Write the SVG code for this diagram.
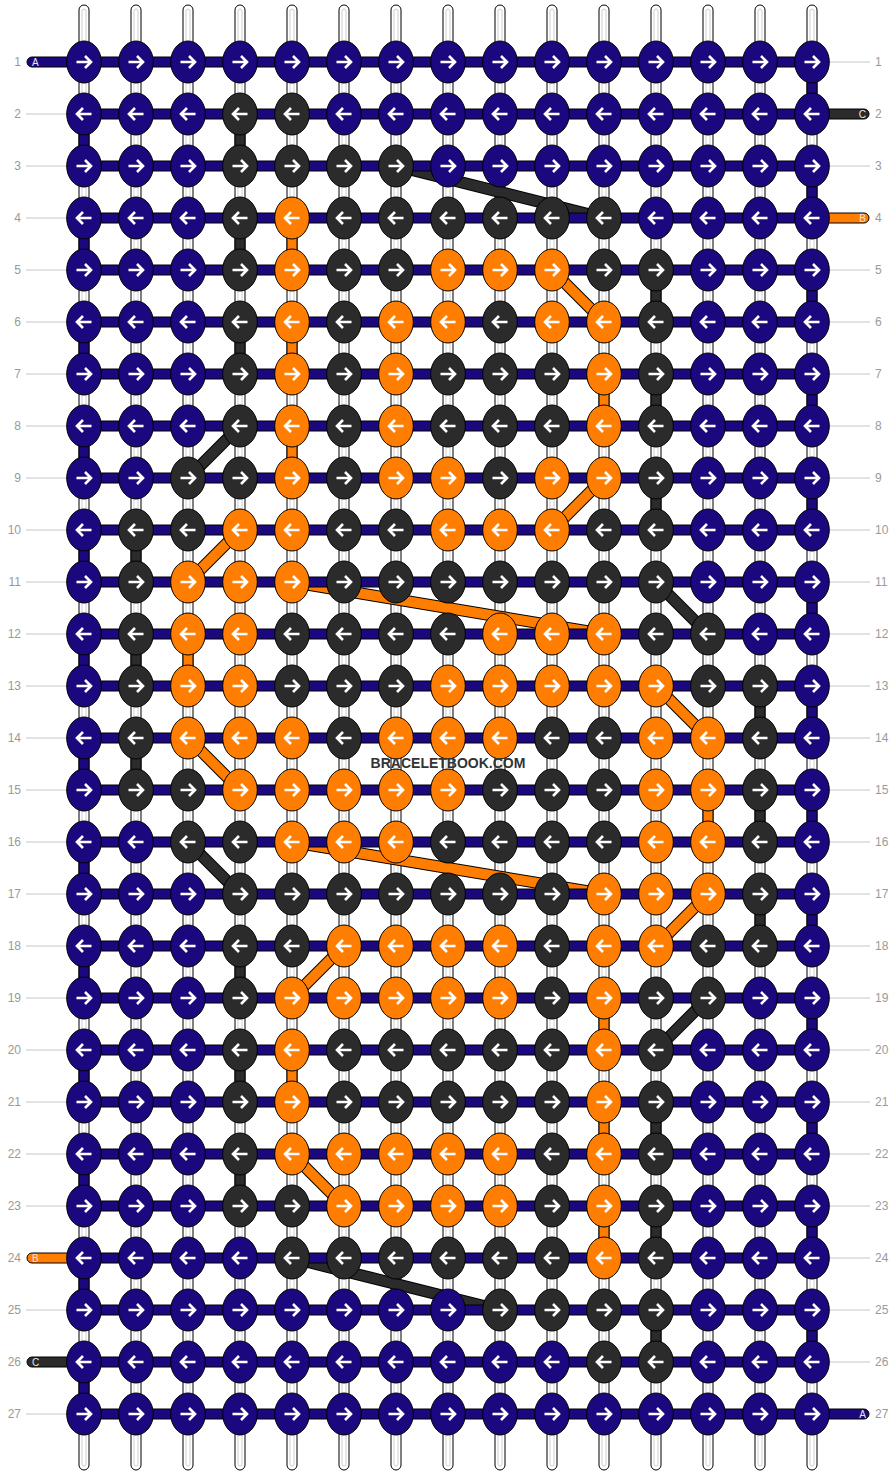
<svg xmlns="http://www.w3.org/2000/svg" width="896" height="1476" viewBox="0 0 896 1476">
<style>
.s{fill:#fff;stroke:#000;stroke-width:1}
.si{fill:none;stroke:#cfcfcf;stroke-width:1}
.ed{stroke:#000;stroke-width:1}
.cb{fill:#1c087e}.ck{fill:#2b2b2b}.co{fill:#ff7d00}
.ar{fill:none;stroke:#fff;stroke-width:2.6}
.lbl{font-family:"Liberation Sans",Arial,sans-serif;font-size:12px;fill:#9a9a9a}
.sl{font-family:"Liberation Sans",Arial,sans-serif;font-size:10px;fill:#e8e8e8}
.ln{stroke:#c8c8c8;stroke-width:1}
.dl{stroke:#000;stroke-width:12}
.dk{stroke:#2b2b2b;stroke-width:10}
.do{stroke:#ff7d00;stroke-width:10}
.wm{font-family:"Liberation Sans",Arial,sans-serif;font-size:14px;font-weight:bold;fill:#333}
</style>
<defs>
<path id="aR" class="ar" d="M-7.5,0H6.5M1,-6L7,0L1,6"/>
<path id="aL" class="ar" d="M7.5,0H-6.5M-1,-6L-7,0L-1,6"/>
<g id="bR"><ellipse class="cb ed" rx="17.3" ry="21"/><use href="#aR"/></g>
<g id="bL"><ellipse class="cb ed" rx="17.3" ry="21"/><use href="#aL"/></g>
<g id="kR"><ellipse class="ck ed" rx="17.3" ry="21"/><use href="#aR"/></g>
<g id="kL"><ellipse class="ck ed" rx="17.3" ry="21"/><use href="#aL"/></g>
<g id="oR"><ellipse class="co ed" rx="17.3" ry="21"/><use href="#aR"/></g>
<g id="oL"><ellipse class="co ed" rx="17.3" ry="21"/><use href="#aL"/></g>
<g id="str"><rect class="s" x="-5" y="5" width="10" height="1465" rx="5"/><rect class="si" x="-2" y="9" width="4" height="1457" rx="2"/></g>
</defs>
<rect width="896" height="1476" fill="#fff"/>
<g id="labels">
<g class="ln">
<line x1="830" y1="62" x2="870" y2="62"/>
<line x1="26" y1="114" x2="66" y2="114"/>
<line x1="26" y1="166" x2="66" y2="166"/><line x1="830" y1="166" x2="870" y2="166"/>
<line x1="26" y1="218" x2="66" y2="218"/>
<line x1="26" y1="270" x2="66" y2="270"/><line x1="830" y1="270" x2="870" y2="270"/>
<line x1="26" y1="322" x2="66" y2="322"/><line x1="830" y1="322" x2="870" y2="322"/>
<line x1="26" y1="374" x2="66" y2="374"/><line x1="830" y1="374" x2="870" y2="374"/>
<line x1="26" y1="426" x2="66" y2="426"/><line x1="830" y1="426" x2="870" y2="426"/>
<line x1="26" y1="478" x2="66" y2="478"/><line x1="830" y1="478" x2="870" y2="478"/>
<line x1="26" y1="530" x2="66" y2="530"/><line x1="830" y1="530" x2="870" y2="530"/>
<line x1="26" y1="582" x2="66" y2="582"/><line x1="830" y1="582" x2="870" y2="582"/>
<line x1="26" y1="634" x2="66" y2="634"/><line x1="830" y1="634" x2="870" y2="634"/>
<line x1="26" y1="686" x2="66" y2="686"/><line x1="830" y1="686" x2="870" y2="686"/>
<line x1="26" y1="738" x2="66" y2="738"/><line x1="830" y1="738" x2="870" y2="738"/>
<line x1="26" y1="790" x2="66" y2="790"/><line x1="830" y1="790" x2="870" y2="790"/>
<line x1="26" y1="842" x2="66" y2="842"/><line x1="830" y1="842" x2="870" y2="842"/>
<line x1="26" y1="894" x2="66" y2="894"/><line x1="830" y1="894" x2="870" y2="894"/>
<line x1="26" y1="946" x2="66" y2="946"/><line x1="830" y1="946" x2="870" y2="946"/>
<line x1="26" y1="998" x2="66" y2="998"/><line x1="830" y1="998" x2="870" y2="998"/>
<line x1="26" y1="1050" x2="66" y2="1050"/><line x1="830" y1="1050" x2="870" y2="1050"/>
<line x1="26" y1="1102" x2="66" y2="1102"/><line x1="830" y1="1102" x2="870" y2="1102"/>
<line x1="26" y1="1154" x2="66" y2="1154"/><line x1="830" y1="1154" x2="870" y2="1154"/>
<line x1="26" y1="1206" x2="66" y2="1206"/><line x1="830" y1="1206" x2="870" y2="1206"/>
<line x1="830" y1="1258" x2="870" y2="1258"/>
<line x1="26" y1="1310" x2="66" y2="1310"/><line x1="830" y1="1310" x2="870" y2="1310"/>
<line x1="830" y1="1362" x2="870" y2="1362"/>
<line x1="26" y1="1414" x2="66" y2="1414"/>
</g>
<g class="lbl" text-anchor="end">
<text x="21" y="66">1</text><text x="21" y="118">2</text><text x="21" y="170">3</text><text x="21" y="222">4</text><text x="21" y="274">5</text><text x="21" y="326">6</text><text x="21" y="378">7</text><text x="21" y="430">8</text><text x="21" y="482">9</text><text x="21" y="534">10</text><text x="21" y="586">11</text><text x="21" y="638">12</text><text x="21" y="690">13</text><text x="21" y="742">14</text><text x="21" y="794">15</text><text x="21" y="846">16</text><text x="21" y="898">17</text><text x="21" y="950">18</text><text x="21" y="1002">19</text><text x="21" y="1054">20</text><text x="21" y="1106">21</text><text x="21" y="1158">22</text><text x="21" y="1210">23</text><text x="21" y="1262">24</text><text x="21" y="1314">25</text><text x="21" y="1366">26</text><text x="21" y="1418">27</text>
</g>
<g class="lbl">
<text x="875" y="66">1</text><text x="875" y="118">2</text><text x="875" y="170">3</text><text x="875" y="222">4</text><text x="875" y="274">5</text><text x="875" y="326">6</text><text x="875" y="378">7</text><text x="875" y="430">8</text><text x="875" y="482">9</text><text x="875" y="534">10</text><text x="875" y="586">11</text><text x="875" y="638">12</text><text x="875" y="690">13</text><text x="875" y="742">14</text><text x="875" y="794">15</text><text x="875" y="846">16</text><text x="875" y="898">17</text><text x="875" y="950">18</text><text x="875" y="1002">19</text><text x="875" y="1054">20</text><text x="875" y="1106">21</text><text x="875" y="1158">22</text><text x="875" y="1210">23</text><text x="875" y="1262">24</text><text x="875" y="1314">25</text><text x="875" y="1366">26</text><text x="875" y="1418">27</text>
</g>
</g>
<g id="strings">
<use href="#str" x="84"/><use href="#str" x="136"/><use href="#str" x="188"/><use href="#str" x="240"/><use href="#str" x="292"/><use href="#str" x="344"/><use href="#str" x="396"/><use href="#str" x="448"/><use href="#str" x="500"/><use href="#str" x="552"/><use href="#str" x="604"/><use href="#str" x="656"/><use href="#str" x="708"/><use href="#str" x="760"/><use href="#str" x="812"/>
</g>
<g id="connectors">
<g id="diagonals">
<g class="dl">
<line x1="396" y1="166" x2="604" y2="218"/><line x1="552" y1="270" x2="604" y2="322"/><line x1="240" y1="426" x2="188" y2="478"/><line x1="604" y1="478" x2="552" y2="530"/><line x1="240" y1="530" x2="188" y2="582"/><line x1="656" y1="582" x2="708" y2="634"/><line x1="292" y1="582" x2="604" y2="634"/><line x1="656" y1="686" x2="708" y2="738"/><line x1="188" y1="738" x2="240" y2="790"/><line x1="188" y1="842" x2="240" y2="894"/><line x1="292" y1="842" x2="604" y2="894"/><line x1="708" y1="894" x2="656" y2="946"/><line x1="344" y1="946" x2="292" y2="998"/><line x1="708" y1="998" x2="656" y2="1050"/><line x1="292" y1="1154" x2="344" y2="1206"/><line x1="292" y1="1258" x2="500" y2="1310"/>
</g>
<g class="dk">
<line x1="396" y1="166" x2="604" y2="218"/><line x1="240" y1="426" x2="188" y2="478"/><line x1="656" y1="582" x2="708" y2="634"/><line x1="188" y1="842" x2="240" y2="894"/><line x1="708" y1="998" x2="656" y2="1050"/><line x1="292" y1="1258" x2="500" y2="1310"/>
</g>
<g class="do">
<line x1="552" y1="270" x2="604" y2="322"/><line x1="604" y1="478" x2="552" y2="530"/><line x1="240" y1="530" x2="188" y2="582"/><line x1="292" y1="582" x2="604" y2="634"/><line x1="656" y1="686" x2="708" y2="738"/><line x1="188" y1="738" x2="240" y2="790"/><line x1="292" y1="842" x2="604" y2="894"/><line x1="708" y1="894" x2="656" y2="946"/><line x1="344" y1="946" x2="292" y2="998"/><line x1="292" y1="1154" x2="344" y2="1206"/>
</g>
</g>
<g id="verticals">
<g class="cb ed">
<rect x="807" y="62" width="10" height="52"/><rect x="807" y="166" width="10" height="52"/><rect x="807" y="270" width="10" height="52"/><rect x="807" y="374" width="10" height="52"/><rect x="807" y="478" width="10" height="52"/><rect x="807" y="582" width="10" height="52"/><rect x="807" y="686" width="10" height="52"/><rect x="807" y="790" width="10" height="52"/><rect x="807" y="894" width="10" height="52"/><rect x="807" y="998" width="10" height="52"/><rect x="807" y="1102" width="10" height="52"/><rect x="807" y="1206" width="10" height="52"/><rect x="807" y="1310" width="10" height="52"/>
<rect x="79" y="114" width="10" height="52"/><rect x="79" y="218" width="10" height="52"/><rect x="79" y="322" width="10" height="52"/><rect x="79" y="426" width="10" height="52"/><rect x="79" y="530" width="10" height="52"/><rect x="79" y="634" width="10" height="52"/><rect x="79" y="738" width="10" height="52"/><rect x="79" y="842" width="10" height="52"/><rect x="79" y="946" width="10" height="52"/><rect x="79" y="1050" width="10" height="52"/><rect x="79" y="1154" width="10" height="52"/><rect x="79" y="1258" width="10" height="52"/><rect x="79" y="1362" width="10" height="52"/>
</g>
<g class="ck ed">
<rect x="235" y="114" width="10" height="52"/><rect x="235" y="218" width="10" height="52"/><rect x="235" y="322" width="10" height="52"/><rect x="235" y="946" width="10" height="52"/><rect x="235" y="1050" width="10" height="52"/><rect x="235" y="1154" width="10" height="52"/>
<rect x="651" y="270" width="10" height="52"/><rect x="651" y="374" width="10" height="52"/><rect x="651" y="478" width="10" height="52"/><rect x="651" y="1102" width="10" height="52"/><rect x="651" y="1206" width="10" height="52"/><rect x="651" y="1310" width="10" height="52"/>
<rect x="131" y="530" width="10" height="52"/><rect x="131" y="634" width="10" height="52"/><rect x="131" y="738" width="10" height="52"/>
<rect x="755" y="686" width="10" height="52"/><rect x="755" y="790" width="10" height="52"/><rect x="755" y="894" width="10" height="52"/>
</g>
<g class="co ed">
<rect x="287" y="218" width="10" height="52"/><rect x="287" y="322" width="10" height="52"/><rect x="287" y="426" width="10" height="52"/><rect x="287" y="1050" width="10" height="52"/>
<rect x="599" y="374" width="10" height="52"/><rect x="599" y="998" width="10" height="52"/><rect x="599" y="1102" width="10" height="52"/><rect x="599" y="1206" width="10" height="52"/>
<rect x="183" y="634" width="10" height="52"/>
<rect x="703" y="790" width="10" height="52"/>
</g>
</g>
<g id="rows" class="cb ed">
<rect x="84" y="57" width="728" height="10"/><rect x="84" y="109" width="728" height="10"/><rect x="84" y="161" width="728" height="10"/><rect x="84" y="213" width="728" height="10"/><rect x="84" y="265" width="728" height="10"/><rect x="84" y="317" width="728" height="10"/><rect x="84" y="369" width="728" height="10"/><rect x="84" y="421" width="728" height="10"/><rect x="84" y="473" width="728" height="10"/><rect x="84" y="525" width="728" height="10"/><rect x="84" y="577" width="728" height="10"/><rect x="84" y="629" width="728" height="10"/><rect x="84" y="681" width="728" height="10"/><rect x="84" y="733" width="728" height="10"/><rect x="84" y="785" width="728" height="10"/><rect x="84" y="837" width="728" height="10"/><rect x="84" y="889" width="728" height="10"/><rect x="84" y="941" width="728" height="10"/><rect x="84" y="993" width="728" height="10"/><rect x="84" y="1045" width="728" height="10"/><rect x="84" y="1097" width="728" height="10"/><rect x="84" y="1149" width="728" height="10"/><rect x="84" y="1201" width="728" height="10"/><rect x="84" y="1253" width="728" height="10"/><rect x="84" y="1305" width="728" height="10"/><rect x="84" y="1357" width="728" height="10"/><rect x="84" y="1409" width="728" height="10"/>
</g>
<g id="ends">
<rect class="cb ed" x="27" y="57" width="62" height="10" rx="5"/><text class="sl" x="32" y="65.5">A</text>
<rect class="cb ed" x="807" y="1409" width="62" height="10" rx="5"/><text class="sl" x="866" y="1417.5" text-anchor="end">A</text>
<rect class="ck ed" x="807" y="109" width="62" height="10" rx="5"/><text class="sl" x="866" y="117.5" text-anchor="end">C</text>
<rect class="co ed" x="807" y="213" width="62" height="10" rx="5"/><text class="sl" x="866" y="221.5" text-anchor="end">B</text>
<rect class="co ed" x="27" y="1253" width="62" height="10" rx="5"/><text class="sl" x="32" y="1261.5">B</text>
<rect class="ck ed" x="27" y="1357" width="62" height="10" rx="5"/><text class="sl" x="32" y="1365.5">C</text>
</g>
</g>
<g id="knots">
<g id="n1-1"><use href="#bR" x="84" y="62"/></g><g id="n1-2"><use href="#bR" x="136" y="62"/></g><g id="n1-3"><use href="#bR" x="188" y="62"/></g><g id="n1-4"><use href="#bR" x="240" y="62"/></g><g id="n1-5"><use href="#bR" x="292" y="62"/></g><g id="n1-6"><use href="#bR" x="344" y="62"/></g><g id="n1-7"><use href="#bR" x="396" y="62"/></g><g id="n1-8"><use href="#bR" x="448" y="62"/></g><g id="n1-9"><use href="#bR" x="500" y="62"/></g><g id="n1-10"><use href="#bR" x="552" y="62"/></g><g id="n1-11"><use href="#bR" x="604" y="62"/></g><g id="n1-12"><use href="#bR" x="656" y="62"/></g><g id="n1-13"><use href="#bR" x="708" y="62"/></g><g id="n1-14"><use href="#bR" x="760" y="62"/></g><g id="n1-15"><use href="#bR" x="812" y="62"/></g>
<g id="n2-1"><use href="#bL" x="84" y="114"/></g><g id="n2-2"><use href="#bL" x="136" y="114"/></g><g id="n2-3"><use href="#bL" x="188" y="114"/></g><g id="n2-4"><use href="#kL" x="240" y="114"/></g><g id="n2-5"><use href="#kL" x="292" y="114"/></g><g id="n2-6"><use href="#bL" x="344" y="114"/></g><g id="n2-7"><use href="#bL" x="396" y="114"/></g><g id="n2-8"><use href="#bL" x="448" y="114"/></g><g id="n2-9"><use href="#bL" x="500" y="114"/></g><g id="n2-10"><use href="#bL" x="552" y="114"/></g><g id="n2-11"><use href="#bL" x="604" y="114"/></g><g id="n2-12"><use href="#bL" x="656" y="114"/></g><g id="n2-13"><use href="#bL" x="708" y="114"/></g><g id="n2-14"><use href="#bL" x="760" y="114"/></g><g id="n2-15"><use href="#bL" x="812" y="114"/></g>
<g id="n3-1"><use href="#bR" x="84" y="166"/></g><g id="n3-2"><use href="#bR" x="136" y="166"/></g><g id="n3-3"><use href="#bR" x="188" y="166"/></g><g id="n3-4"><use href="#kR" x="240" y="166"/></g><g id="n3-5"><use href="#kR" x="292" y="166"/></g><g id="n3-6"><use href="#kR" x="344" y="166"/></g><g id="n3-7"><use href="#kR" x="396" y="166"/></g><g id="n3-8"><use href="#bR" x="448" y="166"/></g><g id="n3-9"><use href="#bR" x="500" y="166"/></g><g id="n3-10"><use href="#bR" x="552" y="166"/></g><g id="n3-11"><use href="#bR" x="604" y="166"/></g><g id="n3-12"><use href="#bR" x="656" y="166"/></g><g id="n3-13"><use href="#bR" x="708" y="166"/></g><g id="n3-14"><use href="#bR" x="760" y="166"/></g><g id="n3-15"><use href="#bR" x="812" y="166"/></g>
<g id="n4-1"><use href="#bL" x="84" y="218"/></g><g id="n4-2"><use href="#bL" x="136" y="218"/></g><g id="n4-3"><use href="#bL" x="188" y="218"/></g><g id="n4-4"><use href="#kL" x="240" y="218"/></g><g id="n4-5"><use href="#oL" x="292" y="218"/></g><g id="n4-6"><use href="#kL" x="344" y="218"/></g><g id="n4-7"><use href="#kL" x="396" y="218"/></g><g id="n4-8"><use href="#kL" x="448" y="218"/></g><g id="n4-9"><use href="#kL" x="500" y="218"/></g><g id="n4-10"><use href="#kL" x="552" y="218"/></g><g id="n4-11"><use href="#kL" x="604" y="218"/></g><g id="n4-12"><use href="#bL" x="656" y="218"/></g><g id="n4-13"><use href="#bL" x="708" y="218"/></g><g id="n4-14"><use href="#bL" x="760" y="218"/></g><g id="n4-15"><use href="#bL" x="812" y="218"/></g>
<g id="n5-1"><use href="#bR" x="84" y="270"/></g><g id="n5-2"><use href="#bR" x="136" y="270"/></g><g id="n5-3"><use href="#bR" x="188" y="270"/></g><g id="n5-4"><use href="#kR" x="240" y="270"/></g><g id="n5-5"><use href="#oR" x="292" y="270"/></g><g id="n5-6"><use href="#kR" x="344" y="270"/></g><g id="n5-7"><use href="#kR" x="396" y="270"/></g><g id="n5-8"><use href="#oR" x="448" y="270"/></g><g id="n5-9"><use href="#oR" x="500" y="270"/></g><g id="n5-10"><use href="#oR" x="552" y="270"/></g><g id="n5-11"><use href="#kR" x="604" y="270"/></g><g id="n5-12"><use href="#kR" x="656" y="270"/></g><g id="n5-13"><use href="#bR" x="708" y="270"/></g><g id="n5-14"><use href="#bR" x="760" y="270"/></g><g id="n5-15"><use href="#bR" x="812" y="270"/></g>
<g id="n6-1"><use href="#bL" x="84" y="322"/></g><g id="n6-2"><use href="#bL" x="136" y="322"/></g><g id="n6-3"><use href="#bL" x="188" y="322"/></g><g id="n6-4"><use href="#kL" x="240" y="322"/></g><g id="n6-5"><use href="#oL" x="292" y="322"/></g><g id="n6-6"><use href="#kL" x="344" y="322"/></g><g id="n6-7"><use href="#oL" x="396" y="322"/></g><g id="n6-8"><use href="#oL" x="448" y="322"/></g><g id="n6-9"><use href="#kL" x="500" y="322"/></g><g id="n6-10"><use href="#oL" x="552" y="322"/></g><g id="n6-11"><use href="#oL" x="604" y="322"/></g><g id="n6-12"><use href="#kL" x="656" y="322"/></g><g id="n6-13"><use href="#bL" x="708" y="322"/></g><g id="n6-14"><use href="#bL" x="760" y="322"/></g><g id="n6-15"><use href="#bL" x="812" y="322"/></g>
<g id="n7-1"><use href="#bR" x="84" y="374"/></g><g id="n7-2"><use href="#bR" x="136" y="374"/></g><g id="n7-3"><use href="#bR" x="188" y="374"/></g><g id="n7-4"><use href="#kR" x="240" y="374"/></g><g id="n7-5"><use href="#oR" x="292" y="374"/></g><g id="n7-6"><use href="#kR" x="344" y="374"/></g><g id="n7-7"><use href="#oR" x="396" y="374"/></g><g id="n7-8"><use href="#kR" x="448" y="374"/></g><g id="n7-9"><use href="#kR" x="500" y="374"/></g><g id="n7-10"><use href="#kR" x="552" y="374"/></g><g id="n7-11"><use href="#oR" x="604" y="374"/></g><g id="n7-12"><use href="#kR" x="656" y="374"/></g><g id="n7-13"><use href="#bR" x="708" y="374"/></g><g id="n7-14"><use href="#bR" x="760" y="374"/></g><g id="n7-15"><use href="#bR" x="812" y="374"/></g>
<g id="n8-1"><use href="#bL" x="84" y="426"/></g><g id="n8-2"><use href="#bL" x="136" y="426"/></g><g id="n8-3"><use href="#bL" x="188" y="426"/></g><g id="n8-4"><use href="#kL" x="240" y="426"/></g><g id="n8-5"><use href="#oL" x="292" y="426"/></g><g id="n8-6"><use href="#kL" x="344" y="426"/></g><g id="n8-7"><use href="#oL" x="396" y="426"/></g><g id="n8-8"><use href="#kL" x="448" y="426"/></g><g id="n8-9"><use href="#kL" x="500" y="426"/></g><g id="n8-10"><use href="#kL" x="552" y="426"/></g><g id="n8-11"><use href="#oL" x="604" y="426"/></g><g id="n8-12"><use href="#kL" x="656" y="426"/></g><g id="n8-13"><use href="#bL" x="708" y="426"/></g><g id="n8-14"><use href="#bL" x="760" y="426"/></g><g id="n8-15"><use href="#bL" x="812" y="426"/></g>
<g id="n9-1"><use href="#bR" x="84" y="478"/></g><g id="n9-2"><use href="#bR" x="136" y="478"/></g><g id="n9-3"><use href="#kR" x="188" y="478"/></g><g id="n9-4"><use href="#kR" x="240" y="478"/></g><g id="n9-5"><use href="#oR" x="292" y="478"/></g><g id="n9-6"><use href="#kR" x="344" y="478"/></g><g id="n9-7"><use href="#oR" x="396" y="478"/></g><g id="n9-8"><use href="#oR" x="448" y="478"/></g><g id="n9-9"><use href="#kR" x="500" y="478"/></g><g id="n9-10"><use href="#oR" x="552" y="478"/></g><g id="n9-11"><use href="#oR" x="604" y="478"/></g><g id="n9-12"><use href="#kR" x="656" y="478"/></g><g id="n9-13"><use href="#bR" x="708" y="478"/></g><g id="n9-14"><use href="#bR" x="760" y="478"/></g><g id="n9-15"><use href="#bR" x="812" y="478"/></g>
<g id="n10-1"><use href="#bL" x="84" y="530"/></g><g id="n10-2"><use href="#kL" x="136" y="530"/></g><g id="n10-3"><use href="#kL" x="188" y="530"/></g><g id="n10-4"><use href="#oL" x="240" y="530"/></g><g id="n10-5"><use href="#oL" x="292" y="530"/></g><g id="n10-6"><use href="#kL" x="344" y="530"/></g><g id="n10-7"><use href="#kL" x="396" y="530"/></g><g id="n10-8"><use href="#oL" x="448" y="530"/></g><g id="n10-9"><use href="#oL" x="500" y="530"/></g><g id="n10-10"><use href="#oL" x="552" y="530"/></g><g id="n10-11"><use href="#kL" x="604" y="530"/></g><g id="n10-12"><use href="#kL" x="656" y="530"/></g><g id="n10-13"><use href="#bL" x="708" y="530"/></g><g id="n10-14"><use href="#bL" x="760" y="530"/></g><g id="n10-15"><use href="#bL" x="812" y="530"/></g>
<g id="n11-1"><use href="#bR" x="84" y="582"/></g><g id="n11-2"><use href="#kR" x="136" y="582"/></g><g id="n11-3"><use href="#oR" x="188" y="582"/></g><g id="n11-4"><use href="#oR" x="240" y="582"/></g><g id="n11-5"><use href="#oR" x="292" y="582"/></g><g id="n11-6"><use href="#kR" x="344" y="582"/></g><g id="n11-7"><use href="#kR" x="396" y="582"/></g><g id="n11-8"><use href="#kR" x="448" y="582"/></g><g id="n11-9"><use href="#kR" x="500" y="582"/></g><g id="n11-10"><use href="#kR" x="552" y="582"/></g><g id="n11-11"><use href="#kR" x="604" y="582"/></g><g id="n11-12"><use href="#kR" x="656" y="582"/></g><g id="n11-13"><use href="#bR" x="708" y="582"/></g><g id="n11-14"><use href="#bR" x="760" y="582"/></g><g id="n11-15"><use href="#bR" x="812" y="582"/></g>
<g id="n12-1"><use href="#bL" x="84" y="634"/></g><g id="n12-2"><use href="#kL" x="136" y="634"/></g><g id="n12-3"><use href="#oL" x="188" y="634"/></g><g id="n12-4"><use href="#oL" x="240" y="634"/></g><g id="n12-5"><use href="#kL" x="292" y="634"/></g><g id="n12-6"><use href="#kL" x="344" y="634"/></g><g id="n12-7"><use href="#kL" x="396" y="634"/></g><g id="n12-8"><use href="#kL" x="448" y="634"/></g><g id="n12-9"><use href="#oL" x="500" y="634"/></g><g id="n12-10"><use href="#oL" x="552" y="634"/></g><g id="n12-11"><use href="#oL" x="604" y="634"/></g><g id="n12-12"><use href="#kL" x="656" y="634"/></g><g id="n12-13"><use href="#kL" x="708" y="634"/></g><g id="n12-14"><use href="#bL" x="760" y="634"/></g><g id="n12-15"><use href="#bL" x="812" y="634"/></g>
<g id="n13-1"><use href="#bR" x="84" y="686"/></g><g id="n13-2"><use href="#kR" x="136" y="686"/></g><g id="n13-3"><use href="#oR" x="188" y="686"/></g><g id="n13-4"><use href="#oR" x="240" y="686"/></g><g id="n13-5"><use href="#kR" x="292" y="686"/></g><g id="n13-6"><use href="#kR" x="344" y="686"/></g><g id="n13-7"><use href="#kR" x="396" y="686"/></g><g id="n13-8"><use href="#oR" x="448" y="686"/></g><g id="n13-9"><use href="#oR" x="500" y="686"/></g><g id="n13-10"><use href="#oR" x="552" y="686"/></g><g id="n13-11"><use href="#oR" x="604" y="686"/></g><g id="n13-12"><use href="#oR" x="656" y="686"/></g><g id="n13-13"><use href="#kR" x="708" y="686"/></g><g id="n13-14"><use href="#kR" x="760" y="686"/></g><g id="n13-15"><use href="#bR" x="812" y="686"/></g>
<g id="n14-1"><use href="#bL" x="84" y="738"/></g><g id="n14-2"><use href="#kL" x="136" y="738"/></g><g id="n14-3"><use href="#oL" x="188" y="738"/></g><g id="n14-4"><use href="#oL" x="240" y="738"/></g><g id="n14-5"><use href="#oL" x="292" y="738"/></g><g id="n14-6"><use href="#kL" x="344" y="738"/></g><g id="n14-7"><use href="#oL" x="396" y="738"/></g><g id="n14-8"><use href="#oL" x="448" y="738"/></g><g id="n14-9"><use href="#oL" x="500" y="738"/></g><g id="n14-10"><use href="#kL" x="552" y="738"/></g><g id="n14-11"><use href="#kL" x="604" y="738"/></g><g id="n14-12"><use href="#oL" x="656" y="738"/></g><g id="n14-13"><use href="#oL" x="708" y="738"/></g><g id="n14-14"><use href="#kL" x="760" y="738"/></g><g id="n14-15"><use href="#bL" x="812" y="738"/></g>
<g id="n15-1"><use href="#bR" x="84" y="790"/></g><g id="n15-2"><use href="#kR" x="136" y="790"/></g><g id="n15-3"><use href="#kR" x="188" y="790"/></g><g id="n15-4"><use href="#oR" x="240" y="790"/></g><g id="n15-5"><use href="#oR" x="292" y="790"/></g><g id="n15-6"><use href="#oR" x="344" y="790"/></g><g id="n15-7"><use href="#oR" x="396" y="790"/></g><g id="n15-8"><use href="#oR" x="448" y="790"/></g><g id="n15-9"><use href="#kR" x="500" y="790"/></g><g id="n15-10"><use href="#kR" x="552" y="790"/></g><g id="n15-11"><use href="#kR" x="604" y="790"/></g><g id="n15-12"><use href="#oR" x="656" y="790"/></g><g id="n15-13"><use href="#oR" x="708" y="790"/></g><g id="n15-14"><use href="#kR" x="760" y="790"/></g><g id="n15-15"><use href="#bR" x="812" y="790"/></g>
<g id="n16-1"><use href="#bL" x="84" y="842"/></g><g id="n16-2"><use href="#bL" x="136" y="842"/></g><g id="n16-3"><use href="#kL" x="188" y="842"/></g><g id="n16-4"><use href="#kL" x="240" y="842"/></g><g id="n16-5"><use href="#oL" x="292" y="842"/></g><g id="n16-6"><use href="#oL" x="344" y="842"/></g><g id="n16-7"><use href="#oL" x="396" y="842"/></g><g id="n16-8"><use href="#kL" x="448" y="842"/></g><g id="n16-9"><use href="#kL" x="500" y="842"/></g><g id="n16-10"><use href="#kL" x="552" y="842"/></g><g id="n16-11"><use href="#kL" x="604" y="842"/></g><g id="n16-12"><use href="#oL" x="656" y="842"/></g><g id="n16-13"><use href="#oL" x="708" y="842"/></g><g id="n16-14"><use href="#kL" x="760" y="842"/></g><g id="n16-15"><use href="#bL" x="812" y="842"/></g>
<g id="n17-1"><use href="#bR" x="84" y="894"/></g><g id="n17-2"><use href="#bR" x="136" y="894"/></g><g id="n17-3"><use href="#bR" x="188" y="894"/></g><g id="n17-4"><use href="#kR" x="240" y="894"/></g><g id="n17-5"><use href="#kR" x="292" y="894"/></g><g id="n17-6"><use href="#kR" x="344" y="894"/></g><g id="n17-7"><use href="#kR" x="396" y="894"/></g><g id="n17-8"><use href="#kR" x="448" y="894"/></g><g id="n17-9"><use href="#kR" x="500" y="894"/></g><g id="n17-10"><use href="#kR" x="552" y="894"/></g><g id="n17-11"><use href="#oR" x="604" y="894"/></g><g id="n17-12"><use href="#oR" x="656" y="894"/></g><g id="n17-13"><use href="#oR" x="708" y="894"/></g><g id="n17-14"><use href="#kR" x="760" y="894"/></g><g id="n17-15"><use href="#bR" x="812" y="894"/></g>
<g id="n18-1"><use href="#bL" x="84" y="946"/></g><g id="n18-2"><use href="#bL" x="136" y="946"/></g><g id="n18-3"><use href="#bL" x="188" y="946"/></g><g id="n18-4"><use href="#kL" x="240" y="946"/></g><g id="n18-5"><use href="#kL" x="292" y="946"/></g><g id="n18-6"><use href="#oL" x="344" y="946"/></g><g id="n18-7"><use href="#oL" x="396" y="946"/></g><g id="n18-8"><use href="#oL" x="448" y="946"/></g><g id="n18-9"><use href="#oL" x="500" y="946"/></g><g id="n18-10"><use href="#kL" x="552" y="946"/></g><g id="n18-11"><use href="#oL" x="604" y="946"/></g><g id="n18-12"><use href="#oL" x="656" y="946"/></g><g id="n18-13"><use href="#kL" x="708" y="946"/></g><g id="n18-14"><use href="#kL" x="760" y="946"/></g><g id="n18-15"><use href="#bL" x="812" y="946"/></g>
<g id="n19-1"><use href="#bR" x="84" y="998"/></g><g id="n19-2"><use href="#bR" x="136" y="998"/></g><g id="n19-3"><use href="#bR" x="188" y="998"/></g><g id="n19-4"><use href="#kR" x="240" y="998"/></g><g id="n19-5"><use href="#oR" x="292" y="998"/></g><g id="n19-6"><use href="#oR" x="344" y="998"/></g><g id="n19-7"><use href="#oR" x="396" y="998"/></g><g id="n19-8"><use href="#oR" x="448" y="998"/></g><g id="n19-9"><use href="#oR" x="500" y="998"/></g><g id="n19-10"><use href="#kR" x="552" y="998"/></g><g id="n19-11"><use href="#oR" x="604" y="998"/></g><g id="n19-12"><use href="#kR" x="656" y="998"/></g><g id="n19-13"><use href="#kR" x="708" y="998"/></g><g id="n19-14"><use href="#bR" x="760" y="998"/></g><g id="n19-15"><use href="#bR" x="812" y="998"/></g>
<g id="n20-1"><use href="#bL" x="84" y="1050"/></g><g id="n20-2"><use href="#bL" x="136" y="1050"/></g><g id="n20-3"><use href="#bL" x="188" y="1050"/></g><g id="n20-4"><use href="#kL" x="240" y="1050"/></g><g id="n20-5"><use href="#oL" x="292" y="1050"/></g><g id="n20-6"><use href="#kL" x="344" y="1050"/></g><g id="n20-7"><use href="#kL" x="396" y="1050"/></g><g id="n20-8"><use href="#kL" x="448" y="1050"/></g><g id="n20-9"><use href="#kL" x="500" y="1050"/></g><g id="n20-10"><use href="#kL" x="552" y="1050"/></g><g id="n20-11"><use href="#oL" x="604" y="1050"/></g><g id="n20-12"><use href="#kL" x="656" y="1050"/></g><g id="n20-13"><use href="#bL" x="708" y="1050"/></g><g id="n20-14"><use href="#bL" x="760" y="1050"/></g><g id="n20-15"><use href="#bL" x="812" y="1050"/></g>
<g id="n21-1"><use href="#bR" x="84" y="1102"/></g><g id="n21-2"><use href="#bR" x="136" y="1102"/></g><g id="n21-3"><use href="#bR" x="188" y="1102"/></g><g id="n21-4"><use href="#kR" x="240" y="1102"/></g><g id="n21-5"><use href="#oR" x="292" y="1102"/></g><g id="n21-6"><use href="#kR" x="344" y="1102"/></g><g id="n21-7"><use href="#kR" x="396" y="1102"/></g><g id="n21-8"><use href="#kR" x="448" y="1102"/></g><g id="n21-9"><use href="#kR" x="500" y="1102"/></g><g id="n21-10"><use href="#kR" x="552" y="1102"/></g><g id="n21-11"><use href="#oR" x="604" y="1102"/></g><g id="n21-12"><use href="#kR" x="656" y="1102"/></g><g id="n21-13"><use href="#bR" x="708" y="1102"/></g><g id="n21-14"><use href="#bR" x="760" y="1102"/></g><g id="n21-15"><use href="#bR" x="812" y="1102"/></g>
<g id="n22-1"><use href="#bL" x="84" y="1154"/></g><g id="n22-2"><use href="#bL" x="136" y="1154"/></g><g id="n22-3"><use href="#bL" x="188" y="1154"/></g><g id="n22-4"><use href="#kL" x="240" y="1154"/></g><g id="n22-5"><use href="#oL" x="292" y="1154"/></g><g id="n22-6"><use href="#oL" x="344" y="1154"/></g><g id="n22-7"><use href="#oL" x="396" y="1154"/></g><g id="n22-8"><use href="#oL" x="448" y="1154"/></g><g id="n22-9"><use href="#oL" x="500" y="1154"/></g><g id="n22-10"><use href="#kL" x="552" y="1154"/></g><g id="n22-11"><use href="#oL" x="604" y="1154"/></g><g id="n22-12"><use href="#kL" x="656" y="1154"/></g><g id="n22-13"><use href="#bL" x="708" y="1154"/></g><g id="n22-14"><use href="#bL" x="760" y="1154"/></g><g id="n22-15"><use href="#bL" x="812" y="1154"/></g>
<g id="n23-1"><use href="#bR" x="84" y="1206"/></g><g id="n23-2"><use href="#bR" x="136" y="1206"/></g><g id="n23-3"><use href="#bR" x="188" y="1206"/></g><g id="n23-4"><use href="#kR" x="240" y="1206"/></g><g id="n23-5"><use href="#kR" x="292" y="1206"/></g><g id="n23-6"><use href="#oR" x="344" y="1206"/></g><g id="n23-7"><use href="#oR" x="396" y="1206"/></g><g id="n23-8"><use href="#oR" x="448" y="1206"/></g><g id="n23-9"><use href="#oR" x="500" y="1206"/></g><g id="n23-10"><use href="#kR" x="552" y="1206"/></g><g id="n23-11"><use href="#oR" x="604" y="1206"/></g><g id="n23-12"><use href="#kR" x="656" y="1206"/></g><g id="n23-13"><use href="#bR" x="708" y="1206"/></g><g id="n23-14"><use href="#bR" x="760" y="1206"/></g><g id="n23-15"><use href="#bR" x="812" y="1206"/></g>
<g id="n24-1"><use href="#bL" x="84" y="1258"/></g><g id="n24-2"><use href="#bL" x="136" y="1258"/></g><g id="n24-3"><use href="#bL" x="188" y="1258"/></g><g id="n24-4"><use href="#bL" x="240" y="1258"/></g><g id="n24-5"><use href="#kL" x="292" y="1258"/></g><g id="n24-6"><use href="#kL" x="344" y="1258"/></g><g id="n24-7"><use href="#kL" x="396" y="1258"/></g><g id="n24-8"><use href="#kL" x="448" y="1258"/></g><g id="n24-9"><use href="#kL" x="500" y="1258"/></g><g id="n24-10"><use href="#kL" x="552" y="1258"/></g><g id="n24-11"><use href="#oL" x="604" y="1258"/></g><g id="n24-12"><use href="#kL" x="656" y="1258"/></g><g id="n24-13"><use href="#bL" x="708" y="1258"/></g><g id="n24-14"><use href="#bL" x="760" y="1258"/></g><g id="n24-15"><use href="#bL" x="812" y="1258"/></g>
<g id="n25-1"><use href="#bR" x="84" y="1310"/></g><g id="n25-2"><use href="#bR" x="136" y="1310"/></g><g id="n25-3"><use href="#bR" x="188" y="1310"/></g><g id="n25-4"><use href="#bR" x="240" y="1310"/></g><g id="n25-5"><use href="#bR" x="292" y="1310"/></g><g id="n25-6"><use href="#bR" x="344" y="1310"/></g><g id="n25-7"><use href="#bR" x="396" y="1310"/></g><g id="n25-8"><use href="#bR" x="448" y="1310"/></g><g id="n25-9"><use href="#kR" x="500" y="1310"/></g><g id="n25-10"><use href="#kR" x="552" y="1310"/></g><g id="n25-11"><use href="#kR" x="604" y="1310"/></g><g id="n25-12"><use href="#kR" x="656" y="1310"/></g><g id="n25-13"><use href="#bR" x="708" y="1310"/></g><g id="n25-14"><use href="#bR" x="760" y="1310"/></g><g id="n25-15"><use href="#bR" x="812" y="1310"/></g>
<g id="n26-1"><use href="#bL" x="84" y="1362"/></g><g id="n26-2"><use href="#bL" x="136" y="1362"/></g><g id="n26-3"><use href="#bL" x="188" y="1362"/></g><g id="n26-4"><use href="#bL" x="240" y="1362"/></g><g id="n26-5"><use href="#bL" x="292" y="1362"/></g><g id="n26-6"><use href="#bL" x="344" y="1362"/></g><g id="n26-7"><use href="#bL" x="396" y="1362"/></g><g id="n26-8"><use href="#bL" x="448" y="1362"/></g><g id="n26-9"><use href="#bL" x="500" y="1362"/></g><g id="n26-10"><use href="#bL" x="552" y="1362"/></g><g id="n26-11"><use href="#kL" x="604" y="1362"/></g><g id="n26-12"><use href="#kL" x="656" y="1362"/></g><g id="n26-13"><use href="#bL" x="708" y="1362"/></g><g id="n26-14"><use href="#bL" x="760" y="1362"/></g><g id="n26-15"><use href="#bL" x="812" y="1362"/></g>
<g id="n27-1"><use href="#bR" x="84" y="1414"/></g><g id="n27-2"><use href="#bR" x="136" y="1414"/></g><g id="n27-3"><use href="#bR" x="188" y="1414"/></g><g id="n27-4"><use href="#bR" x="240" y="1414"/></g><g id="n27-5"><use href="#bR" x="292" y="1414"/></g><g id="n27-6"><use href="#bR" x="344" y="1414"/></g><g id="n27-7"><use href="#bR" x="396" y="1414"/></g><g id="n27-8"><use href="#bR" x="448" y="1414"/></g><g id="n27-9"><use href="#bR" x="500" y="1414"/></g><g id="n27-10"><use href="#bR" x="552" y="1414"/></g><g id="n27-11"><use href="#bR" x="604" y="1414"/></g><g id="n27-12"><use href="#bR" x="656" y="1414"/></g><g id="n27-13"><use href="#bR" x="708" y="1414"/></g><g id="n27-14"><use href="#bR" x="760" y="1414"/></g><g id="n27-15"><use href="#bR" x="812" y="1414"/></g>
</g>
<text class="wm" x="448" y="768" text-anchor="middle">BRACELETBOOK.COM</text>
</svg>
